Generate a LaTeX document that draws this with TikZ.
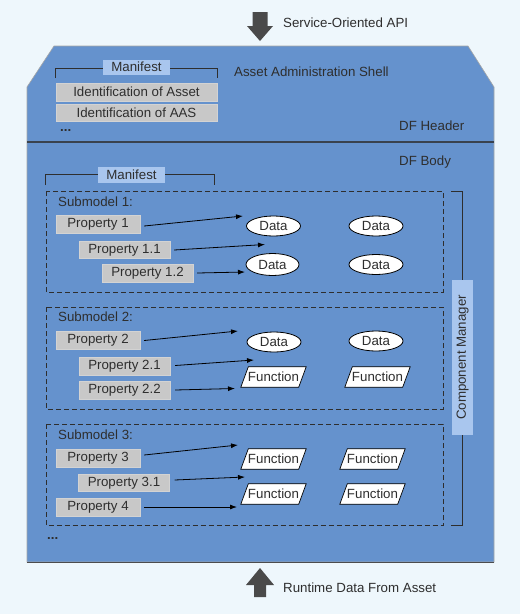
\documentclass[tikz,border=0pt]{standalone}
\usepackage{fontspec}
\setmainfont{Liberation Sans}
\usetikzlibrary{shapes.geometric,arrows.meta}
\definecolor{bgc}{HTML}{EEF7FC}
\definecolor{shellblue}{HTML}{6592CD}
\definecolor{lblue}{HTML}{A9C6EE}
\definecolor{boxgray}{HTML}{C8C8C8}
\definecolor{txt}{HTML}{2E2E2E}
\definecolor{bigarrow}{HTML}{4A4A4A}
\begin{document}
\begin{tikzpicture}[x=1pt,y=-1pt,
  every node/.style={text=txt,font=\fontsize{13.3}{15}\selectfont,inner sep=0pt},
  prop/.style={fill=boxgray,draw=boxgray!80!white,line width=0.4pt,minimum height=18pt,anchor=center},
  lbl/.style={fill=lblue,minimum height=15pt,anchor=center},
  dataell/.style={ellipse,draw=black,fill=white,line width=0.8pt,minimum width=54pt,minimum height=20pt},
  funcbox/.style={minimum width=65pt,minimum height=20pt},
  para/.style={draw=black,fill=white,line width=0.7pt},
  conn/.style={-{Latex[length=7pt,width=5pt]},line width=0.8pt,black},
  dbox/.style={draw=txt,line width=1pt,dash pattern=on 5pt off 3pt},
  brk/.style={draw=txt,line width=1pt},
  big/.style={fill=bigarrow,draw=none}]
\useasboundingbox (0,0) rectangle (520,614);
\fill[bgc] (0,0) rectangle (520,614);
% shell
\filldraw[fill=shellblue,draw=gray!70,line width=0.6pt]
  (54,46) -- (468,46) -- (494,87) -- (494,562) -- (27,562) -- (27,87) -- cycle;
\draw[gray!60!black,line width=1pt] (27,562) -- (494,562);
\draw[txt!80!shellblue,line width=1.2pt] (27,142) -- (494,142);
% big arrows
\fill[big] (252.5,12) -- (267.5,12) -- (267.5,26) -- (273,26) -- (260,41) -- (247,26) -- (252.5,26) -- cycle;
\fill[big] (254,597) -- (266,597) -- (266,585) -- (274,585) -- (260,568) -- (246,585) -- (254,585) -- cycle;
\node[anchor=west] (api) at (283,23) {Service-Oriented API};
\node[anchor=west] (rt) at (283,588) {Runtime Data From Asset};
% header
\draw[brk] (55,78) -- (55,68) -- (217,68) -- (217,78);
\node[lbl,minimum width=67pt] (man1) at (136.5,67) {Manifest};
\node[anchor=west] (aas) at (234,72) {Asset Administration Shell};
\node[prop,minimum width=161pt,minimum height=18pt] (idasset) at (136.5,92) {Identification of Asset};
\node[prop,minimum width=161pt,minimum height=17pt] (idaas) at (136.5,112.5) {Identification of AAS};
\node[anchor=west] (dots1) at (60,131) {\textbf{...}};
\node[anchor=west] (dfh) at (399,126) {DF Header};
\node[anchor=west] (dfb) at (399,162) {DF Body};
% body manifest
\draw[brk] (45,185) -- (45,174) -- (214,174) -- (214,185);
\node[lbl,minimum width=67pt,minimum height=16pt] (man2) at (131.5,175) {Manifest};
% component manager
\draw[brk] (451,191) -- (462,191) -- (462,525.5) -- (451,525.5);
\node[lbl,rotate=90,minimum width=155pt,minimum height=21pt] (cm) at (462.5,357.5) {Component Manager};
% submodel 1
\draw[dbox] (46,191) rectangle (443,292);
\node[anchor=west] (s1) at (58,202) {Submodel 1:};
\node[prop,minimum width=84pt] (p1) at (98,224) {Property 1};
\node[prop,minimum width=91pt,minimum height=17pt] (p11) at (124.5,250) {Property 1.1};
\node[prop,minimum width=91pt] (p12) at (147.5,273) {Property 1.2};
\node[dataell] (d11) at (273.5,226) {Data};
\node[dataell] (d12) at (376,226) {Data};
\node[dataell,minimum width=53pt,minimum height=22pt] (d13) at (272.5,264.5) {Data};
\node[dataell] (d14) at (376,264.5) {Data};
\coordinate (e1) at (243,216);
\coordinate (e11) at (265,244.5);
\coordinate (e12) at (245,272);
\draw[conn] ([shift={(4,2)}]p1.east) -- (e1);
\draw[conn] ([xshift=4pt]p11.east) -- (e11);
\draw[conn] ([xshift=4pt]p12.east) -- (e12);
% submodel 2
\draw[dbox] (46,307) rectangle (443,409);
\node[anchor=west] (s2) at (58,316.5) {Submodel 2:};
\node[prop,minimum width=84pt] (p2) at (98,340.5) {Property 2};
\node[prop,minimum width=91pt] (p21) at (124.5,366.5) {Property 2.1};
\node[prop,minimum width=91pt] (p22) at (124.5,390) {Property 2.2};
\node[dataell] (d21) at (274,342) {Data};
\node[dataell] (d22) at (376,341) {Data};
\coordinate (e2) at (238,331);
\coordinate (e21) at (254,360);
\coordinate (e22) at (235,388.5);
\draw[conn] ([xshift=4pt]p2.east) -- (e2);
\draw[conn] ([shift={(5,-1)}]p21.east) -- (e21);
\draw[conn] ([xshift=5pt]p22.east) -- (e22);
% submodel 3
\draw[dbox] (46,424) rectangle (443,525.5);
\node[anchor=west] (s3) at (58,435) {Submodel 3:};
\node[prop,minimum width=84pt] (p3) at (98,458) {Property 3};
\node[prop,minimum width=91pt,minimum height=17pt] (p31) at (124,483) {Property 3.1};
\node[prop,minimum width=84pt] (p4) at (98,507) {Property 4};
\coordinate (e3) at (238,445);
\coordinate (e31) at (245,477);
\coordinate (e4) at (237,507);
\draw[conn] ([shift={(4,-3)}]p3.east) -- (e3);
\draw[conn] ([shift={(5,-3)}]p31.east) -- (e31);
\draw[conn] ([xshift=4pt]p4.east) -- (e4);
% function parallelograms
\foreach \n/\x/\y in {f21/273.5/377, f22/377.5/377, f31/273.5/459, f32/372.5/459, f33/273.5/494, f34/372.5/494}{
  \node[funcbox] (\n) at (\x,\y) {};
  \filldraw[para] (\n.south west) -- ([xshift=7.5pt]\n.north west) -- (\n.north east) -- ([xshift=-7.5pt]\n.south east) -- cycle;
  \node (\n t) at (\n.center) {Function};
}
\node[anchor=west] (dots2) at (47,539) {\textbf{...}};
\end{tikzpicture}
\end{document}
